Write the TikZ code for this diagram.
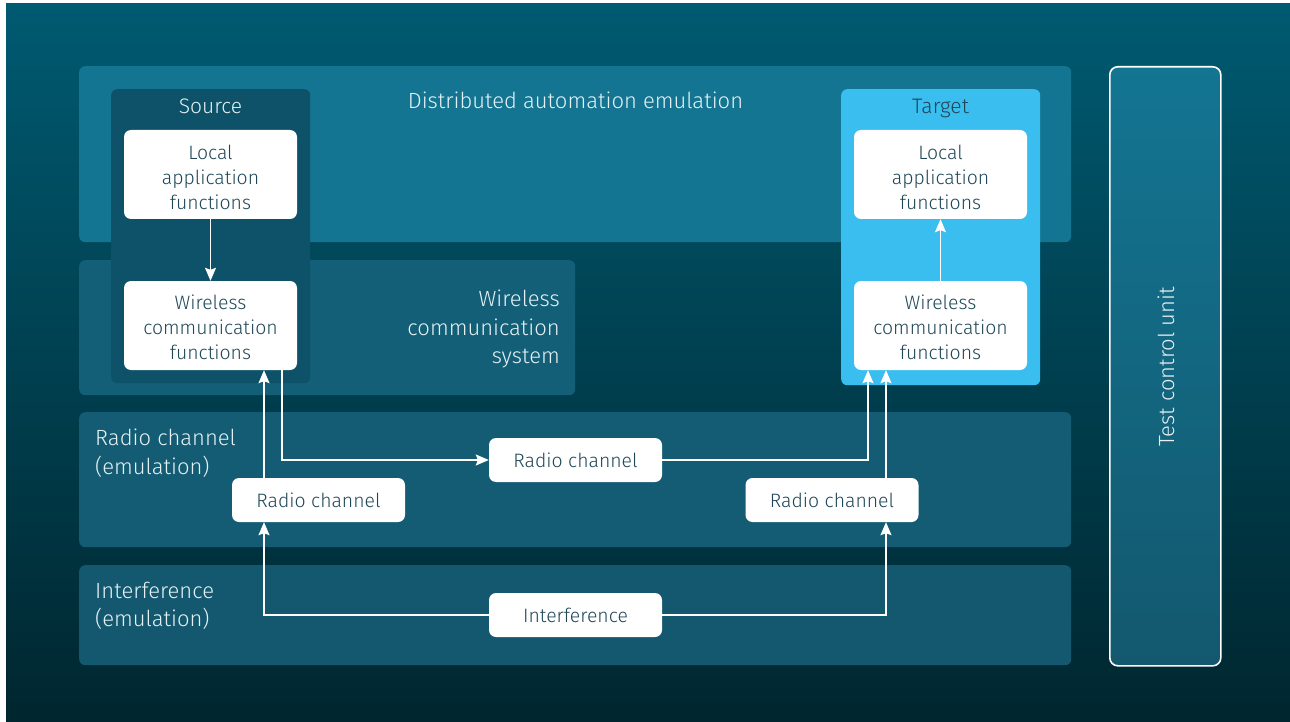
\documentclass[tikz,border=0pt]{standalone}
\usepackage{fontspec}
\setmainfont{Fira Sans}[UprightFont=* Light]
\usetikzlibrary{arrows.meta}
\definecolor{bgtop}{HTML}{005A71}
\definecolor{bgbot}{HTML}{00262F}
\definecolor{panA}{HTML}{137592}
\definecolor{panB}{HTML}{135F77}
\definecolor{panC}{HTML}{135C73}
\definecolor{panD}{HTML}{13586E}
\definecolor{srcbox}{HTML}{0D5269}
\definecolor{tgtbox}{HTML}{3ABEF0}
\definecolor{boxtxt}{HTML}{1E4656}
\definecolor{lighttxt}{HTML}{E6F1F4}
\tikzset{
  panel/.style={fill=#1, rounded corners=6pt, inner sep=0pt, anchor=north west},
  fbox/.style={fill=white, rounded corners=7pt, text=boxtxt, align=center,
    minimum width=173pt, inner sep=0pt, font=\fontsize{19.4}{25}\selectfont},
  ftxt/.style={text=boxtxt, align=center, inner sep=0pt, font=\fontsize{19.4}{25}\selectfont},
  lbl/.style={text=lighttxt, font=\fontsize{22}{28.5}\selectfont, inner sep=0pt},
  arr/.style={draw=white, line width=1.4pt, -{Stealth[width=11pt,length=13pt,inset=2pt]}}
}
\begin{document}
\begin{tikzpicture}[x=1pt,y=-1pt]
\useasboundingbox (0,0) rectangle (1290,722);
\fill[white] (0,0) rectangle (1290,722);
\shade[top color=bgtop, bottom color=bgbot] (6,4) rectangle (1290,722);
% panels
\node[panel=panA, minimum width=992pt, minimum height=176pt] (pDist) at (79,66) {};
\node[panel=panB, minimum width=496pt, minimum height=135pt] (pWire) at (79,260) {};
\node[panel=panC, minimum width=992pt, minimum height=135pt] (pRadio) at (79,412) {};
\node[panel=panD, minimum width=992pt, minimum height=100pt] (pIntf) at (79,565) {};
% test control unit
\shade[top color=panA, bottom color=panD, rounded corners=8pt] (1109,66) rectangle (1220,665);
\node[draw=white, line width=1.6pt, rounded corners=8pt, anchor=north west, minimum width=111pt, minimum height=599pt, inner sep=0pt] (tcu) at (1109,66) {};
\node[lbl, rotate=90] (tcutxt) at (1166,367) {Test control unit};
% source/target
\node[panel=srcbox, minimum width=199pt, minimum height=294pt] (src) at (111,89) {};
\node[panel=tgtbox, minimum width=199pt, minimum height=296pt] (tgt) at (841,89) {};
\node[lbl, font=\fontsize{21}{25}\selectfont, anchor=base] (srcT) at (210.5,114) {Source};
\node[lbl, font=\fontsize{21}{25}\selectfont, anchor=base, text=boxtxt] (tgtT) at (940.5,114) {Target};
% labels
\node[lbl] (distT) at (575.5,100) {Distributed automation emulation};
\node[lbl, align=right, anchor=east] (wireT) at (560,329) {Wireless\\communication\\system};
\node[lbl, align=left, anchor=west] (radT) at (95,453) {Radio channel\\(emulation)};
\node[lbl, align=left, anchor=west] (intT) at (95,606) {Interference\\(emulation)};
% function boxes
\node[fbox, minimum height=89pt] (sLoc) at (210.5,174.5) {};
\node[fbox, minimum height=89pt] (sWir) at (210.5,325.5) {};
\node[fbox, minimum height=89pt] (tLoc) at (940.5,174.5) {};
\node[fbox, minimum height=89pt] (tWir) at (940.5,325.5) {};
\node[ftxt] (sLocT) at ([yshift=-2.5pt]sLoc.center) {Local\\application\\functions};
\node[ftxt] (sWirT) at ([yshift=-2pt]sWir.center) {Wireless\\communication\\functions};
\node[ftxt] (tLocT) at ([yshift=-2.5pt]tLoc.center) {Local\\application\\functions};
\node[ftxt] (tWirT) at ([yshift=-2pt]tWir.center) {Wireless\\communication\\functions};
\node[fbox, minimum height=44pt] (radC) at (575.5,460) {Radio channel};
\node[fbox, minimum height=44pt] (radL) at (318.5,500) {Radio channel};
\node[fbox, minimum height=44pt] (radR) at (832,500) {Radio channel};
\node[fbox, minimum height=44pt] (intf) at (575.5,615) {Interference};
% connectors
\draw[arr] (sLoc.south) -- (sWir.north);
\draw[arr] (tWir.north) -- (tLoc.south);
\draw[arr] (264,0 |- radL.north) -- (264,0 |- sWir.south);
\draw[arr] (282,0 |- sWir.south) |- (radC.west);
\draw[arr] (radC.east) -| (868,0 |- tWir.south);
\draw[arr] (886,0 |- radR.north) -- (886,0 |- tWir.south);
\draw[arr] (intf.west) -| (264,0 |- radL.south);
\draw[arr] (intf.east) -| (886,0 |- radR.south);
\end{tikzpicture}
\end{document}
